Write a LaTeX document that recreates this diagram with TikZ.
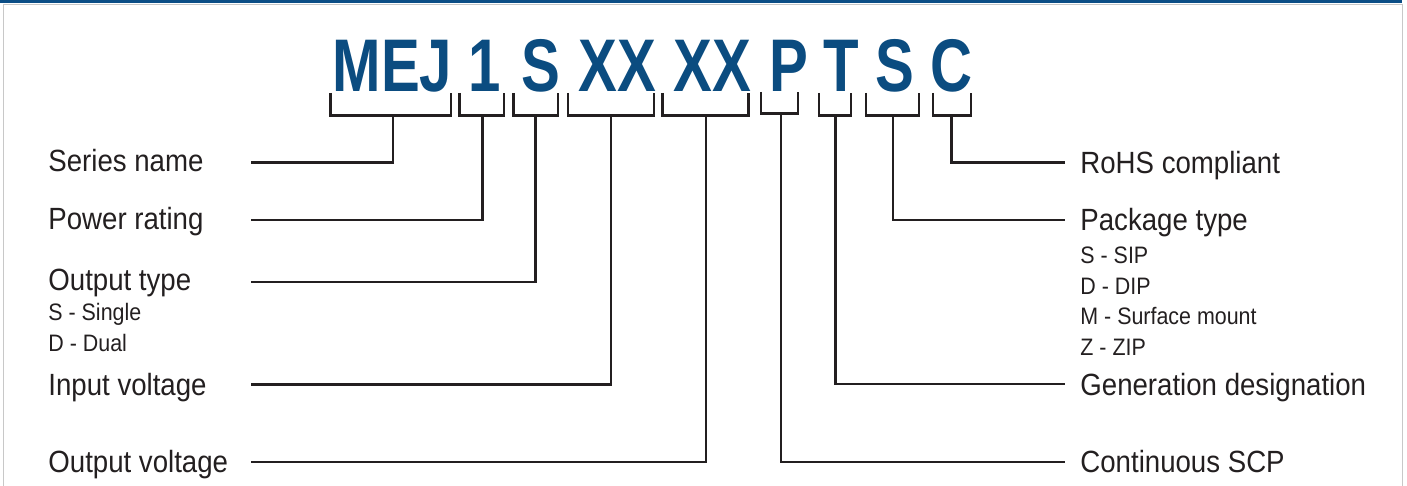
\documentclass[tikz,border=0pt]{standalone}
\usepackage{fontspec}
\setmainfont{Liberation Sans}
\newfontfamily\labfont[FakeStretch=0.9]{Liberation Sans}
\newfontfamily\titfont[FakeStretch=0.78]{Liberation Sans}
\definecolor{codeblue}{HTML}{0B4C80}
\definecolor{barblue}{HTML}{0B4E86}
\definecolor{linec}{HTML}{231F20}
\definecolor{framegrey}{HTML}{C8C8C8}
\tikzset{
  lab/.style={anchor=base west, inner sep=0pt, text=linec, font=\labfont\fontsize{15.35}{18}\selectfont},
  sublab/.style={anchor=base west, inner sep=0pt, text=linec, font=\labfont\fontsize{11.9}{14}\selectfont},
  code/.style={anchor=base, inner sep=0pt, text=codeblue, font=\titfont\bfseries\fontsize{37.3}{40}\selectfont},
  conn/.style={draw=linec, line width=1.3pt},
}
\begin{document}
\begin{tikzpicture}[x=0.5pt,y=-0.5pt]
\useasboundingbox (0,0) rectangle (1407,486);
% frame
\fill[barblue] (0,0) rectangle (1402,3.5);
\draw[framegrey, line width=0.9pt] (3.5,4.5) -- (1402.5,4.5);
\draw[framegrey, line width=0.9pt] (3.5,4.5) -- (3.5,486);
\draw[framegrey, line width=0.9pt] (1402.5,4.5) -- (1402.5,486);

% code letters
\node[code] (gMEJ) at (392.5,92) {MEJ};
\node[code] (g1) at (485,92) {1};
\node[code] (gS) at (541,92) {S};
\node[code] (gXXa) at (617,92) {XX};
\node[code] (gXXb) at (712.5,92) {XX};
\node[code] (gP) at (789,92) {P};
\node[code] (gT) at (841,92) {T};
\node[code] (gS2) at (894.5,92) {S};
\node[code] (gC) at (951,92) {C};

% brackets
\draw[conn] (330.5,93) -- (330.5,115.5) -- (451,115.5) -- (451,93);
\coordinate (bMEJ) at (393,115.5);
\draw[conn] (459.5,93) -- (459.5,115.5) -- (504,115.5) -- (504,93);
\coordinate (b1) at (482.5,115.5);
\draw[conn] (513.5,93) -- (513.5,115.5) -- (558,115.5) -- (558,93);
\coordinate (bS) at (535.5,115.5);
\draw[conn] (568,93) -- (568,115.5) -- (654,115.5) -- (654,93);
\coordinate (bXXa) at (611,115.5);
\draw[conn] (662.5,93) -- (662.5,115.5) -- (748.5,115.5) -- (748.5,93);
\coordinate (bXXb) at (706,115.5);
\draw[conn] (761,92) -- (761,113.5) -- (798,113.5) -- (798,92);
\coordinate (bP) at (781,113.5);
\draw[conn] (819,93) -- (819,115.5) -- (851,115.5) -- (851,93);
\coordinate (bT) at (835.5,115.5);
\draw[conn] (866,93) -- (866,115.5) -- (919,115.5) -- (919,93);
\coordinate (bS2) at (893,115.5);
\draw[conn] (933,93) -- (933,115.5) -- (971,115.5) -- (971,93);
\coordinate (bC) at (951.5,115.5);

% left labels
\node[lab] (lSeries) at (48,172) {Series name};
\node[lab] (lPower) at (48,230) {Power rating};
\node[lab] (lOtype) at (48,291) {Output type};
\node[sublab] (lS) at (48,320) {S - Single};
\node[sublab] (lD) at (48,351) {D - Dual};
\node[lab] (lInput) at (48,395) {Input voltage};
\node[lab] (lOutput) at (48,472.5) {Output voltage};

% right labels
\node[lab] (rRoHS) at (1080,174) {RoHS compliant};
\node[lab] (rPack) at (1080,230.5) {Package type};
\node[sublab] (rS) at (1080,263.5) {S - SIP};
\node[sublab] (rD) at (1080,294) {D - DIP};
\node[sublab] (rM) at (1080,324.5) {M - Surface mount};
\node[sublab] (rZ) at (1080,355) {Z - ZIP};
\node[lab] (rGen) at (1080,395) {Generation designation};
\node[lab] (rCont) at (1080,472.5) {Continuous SCP};

% connector ends
\coordinate (eSeries) at (251,162.5);
\coordinate (ePower) at (251,220);
\coordinate (eOtype) at (251,282);
\coordinate (eInput) at (251,384.5);
\coordinate (eOutput) at (251,462);
\coordinate (eRoHS) at (1065,162.5);
\coordinate (ePack) at (1065,220);
\coordinate (eGen) at (1065,384);
\coordinate (eCont) at (1065,462);

% connectors
\draw[conn] (bMEJ) |- (eSeries);
\draw[conn] (b1) |- (ePower);
\draw[conn] (bS) |- (eOtype);
\draw[conn] (bXXa) |- (eInput);
\draw[conn] (bXXb) |- (eOutput);
\draw[conn] (bC) |- (eRoHS);
\draw[conn] (bS2) |- (ePack);
\draw[conn] (bT) |- (eGen);
\draw[conn] (bP) |- (eCont);
\end{tikzpicture}
\end{document}
